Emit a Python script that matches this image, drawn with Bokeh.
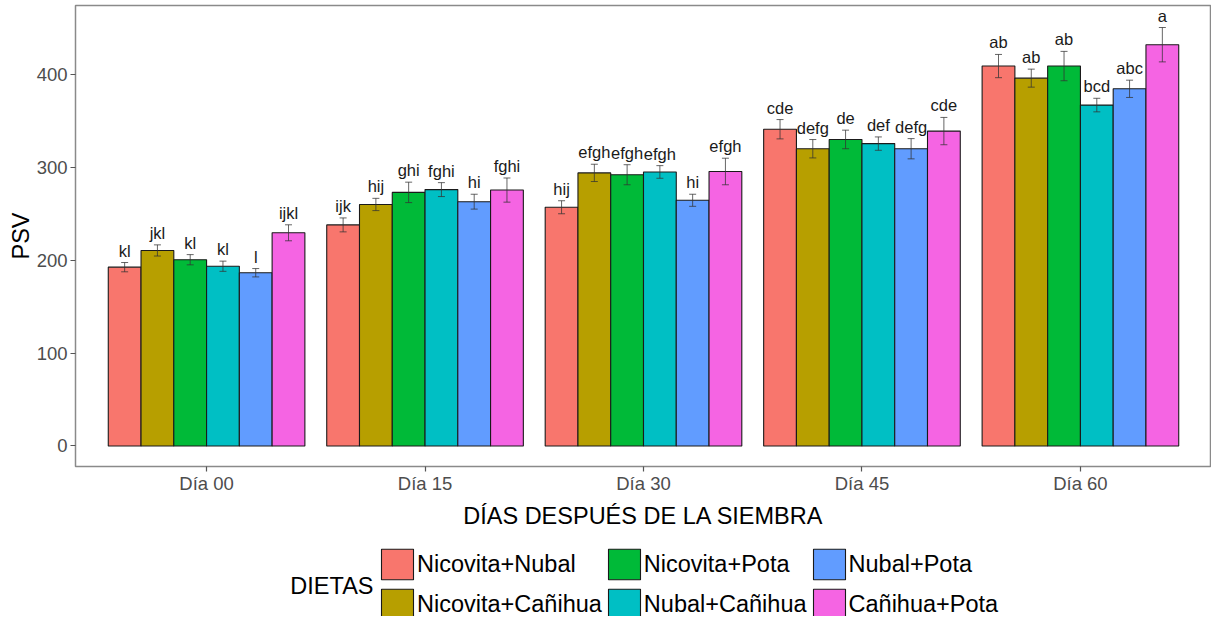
from bokeh.plotting import figure
from bokeh.layouts import column
from bokeh.models import (ColumnDataSource, FactorRange, Whisker, TeeHead, Legend,
                          LegendItem, FixedTicker, Range1d, Label)
from bokeh.transform import dodge
from bokeh.core.properties import value
from bokeh.embed import file_html
from bokeh.resources import INLINE

FONT = "Liberation Sans"

days = ["Día 00", "Día 15", "Día 30", "Día 45", "Día 60"]
dietas = ["Nicovita+Nubal", "Nicovita+Cañihua", "Nicovita+Pota",
          "Nubal+Cañihua", "Nubal+Pota", "Cañihua+Pota"]
colors = ["#F8766D", "#B79F00", "#00BA38", "#00BFC4", "#619CFF", "#F564E3"]

# PSV means per diet (one value per day)
nicovita_nubal = [192.5, 238, 257, 341, 409]
nicovita_canihua = [210.5, 260, 294, 320, 396]
nicovita_pota = [200.5, 273, 292, 330, 409]
nubal_canihua = [193.5, 276, 295, 325.5, 367]
nubal_pota = [186.5, 263, 264.5, 320, 384.5]
canihua_pota = [229.5, 275.5, 295.5, 339, 432]

# standard errors
se_nicovita_nubal = [5, 7.5, 7, 10.4, 12.5]
se_nicovita_canihua = [6, 6.6, 9.3, 9.9, 9.7]
se_nicovita_pota = [5.5, 11, 10.8, 10, 15.8]
se_nubal_canihua = [5.5, 7.5, 6.8, 7.2, 7.3]
se_nubal_pota = [4.5, 8, 6.5, 10.9, 9.3]
se_canihua_pota = [8.6, 13, 14.3, 14.7, 18.5]

# significance letters
let_nicovita_nubal = ["kl", "ijk", "hij", "cde", "ab"]
let_nicovita_canihua = ["jkl", "hij", "efgh", "defg", "ab"]
let_nicovita_pota = ["kl", "ghi", "efgh", "de", "ab"]
let_nubal_canihua = ["kl", "fghi", "efgh", "def", "bcd"]
let_nubal_pota = ["l", "hi", "hi", "defg", "abc"]
let_canihua_pota = ["ijkl", "fghi", "efgh", "cde", "a"]

y_ticks = [0, 100, 200, 300, 400]

series_vals = [nicovita_nubal, nicovita_canihua, nicovita_pota,
               nubal_canihua, nubal_pota, canihua_pota]
series_se = [se_nicovita_nubal, se_nicovita_canihua, se_nicovita_pota,
             se_nubal_canihua, se_nubal_pota, se_canihua_pota]
series_let = [let_nicovita_nubal, let_nicovita_canihua, let_nicovita_pota,
              let_nubal_canihua, let_nubal_pota, let_canihua_pota]

p = figure(
    x_range=FactorRange(factors=days, range_padding=0.1, range_padding_units="absolute"),
    y_range=Range1d(-22.1, 474.2),
    frame_width=1136, frame_height=461,
    min_border_left=75, min_border_right=0, min_border_top=5, min_border_bottom=65,
    output_backend="svg", toolbar_location=None,
)
p.background_fill_color = "white"
p.border_fill_color = "white"
p.outline_line_color = "#8a8a8a"
p.outline_line_width = 1.5
p.xgrid.grid_line_color = None
p.ygrid.grid_line_color = None

# legend panel (separate small figure so the legend is not clipped)
lg = figure(width=1211, height=85, min_border=0, x_range=Range1d(0, 1), y_range=Range1d(0, 1),
            x_axis_location=None, y_axis_location=None,
            output_backend="svg", toolbar_location=None)
lg.outline_line_color = None
lg.xgrid.grid_line_color = None
lg.ygrid.grid_line_color = None
lg.background_fill_color = "white"
lg.border_fill_color = "white"

n = len(dietas)
bw = 0.9 / n
items = []
for i, (name, vals, ses, lets, col) in enumerate(
        zip(dietas, series_vals, series_se, series_let, colors)):
    off = (i - (n - 1) / 2) * bw
    src = ColumnDataSource(dict(
        day=days, psv=vals,
        lo=[v - s for v, s in zip(vals, ses)],
        up=[v + s for v, s in zip(vals, ses)],
        lab=lets,
    ))
    p.vbar(x=dodge("day", off, range=p.x_range), top="psv", bottom=0, width=bw,
           source=src, fill_color=col, line_color="#1a1a1a", line_width=1.1)
    w = Whisker(source=src, base=dodge("day", off, range=p.x_range), upper="up", lower="lo",
                line_color="#333333", line_alpha=0.75, line_width=1, level="overlay",
                upper_head=TeeHead(size=7, line_color="#333333", line_alpha=0.75, line_width=1),
                lower_head=TeeHead(size=7, line_color="#333333", line_alpha=0.75, line_width=1))
    p.add_layout(w)
    p.text(x=dodge("day", off, range=p.x_range), y="up", text="lab", source=src,
           text_align="center", text_baseline="bottom", y_offset=-3,
           text_font=value(FONT), text_font_size="16.5px", text_color="#1a1a1a")
    # legend key proxy: lies outside the legend panel's visible range, only its style is used
    kr = lg.vbar(x=[5.0], top=[5.0], bottom=[4.0], width=0.1,
                 fill_color=col, line_color="#1a1a1a", line_width=1.1)
    items.append(LegendItem(label=name, renderers=[kr]))

# axes
p.yaxis.ticker = FixedTicker(ticks=y_ticks)
for ax in (p.xaxis, p.yaxis):
    ax.axis_line_color = None
    ax.major_tick_line_color = "#555555"
    ax.major_tick_line_width = 1.2
    ax.major_tick_in = 0
    ax.major_tick_out = 5
    ax.minor_tick_line_color = None
    ax.major_label_text_font = FONT
    ax.major_label_text_font_size = "18.5px"
    ax.major_label_text_color = "#4d4d4d"
    ax.axis_label_text_font = FONT
    ax.axis_label_text_font_size = "23.5px"
    ax.axis_label_text_font_style = "normal"
    ax.axis_label_text_color = "black"
p.xaxis.axis_label = "DÍAS DESPUÉS DE LA SIEMBRA"
p.yaxis.axis_label = "PSV"
p.xaxis.major_label_standoff = 1
p.xaxis.axis_label_standoff = 6
p.yaxis.major_label_standoff = 3
p.yaxis.axis_label_standoff = 0

legend = Legend(items=items, location=(302, -7), orientation="vertical", nrows=2,
                glyph_width=40, glyph_height=38, label_height=38, label_standoff=0,
                spacing=2, padding=0, margin=0,
                border_line_color=None, background_fill_alpha=0,
                label_text_font=FONT, label_text_font_size="23.5px", label_text_color="black")
lg.add_layout(legend)
lg.add_layout(Label(x=298, y=31, x_units="screen", y_units="screen", text="DIETAS",
                    text_align="right", text_baseline="middle",
                    text_font=FONT, text_font_size="23.5px", text_color="black"))

layout = column(p, lg, spacing=0)
open("out.html", "w").write(file_html(layout, INLINE))
